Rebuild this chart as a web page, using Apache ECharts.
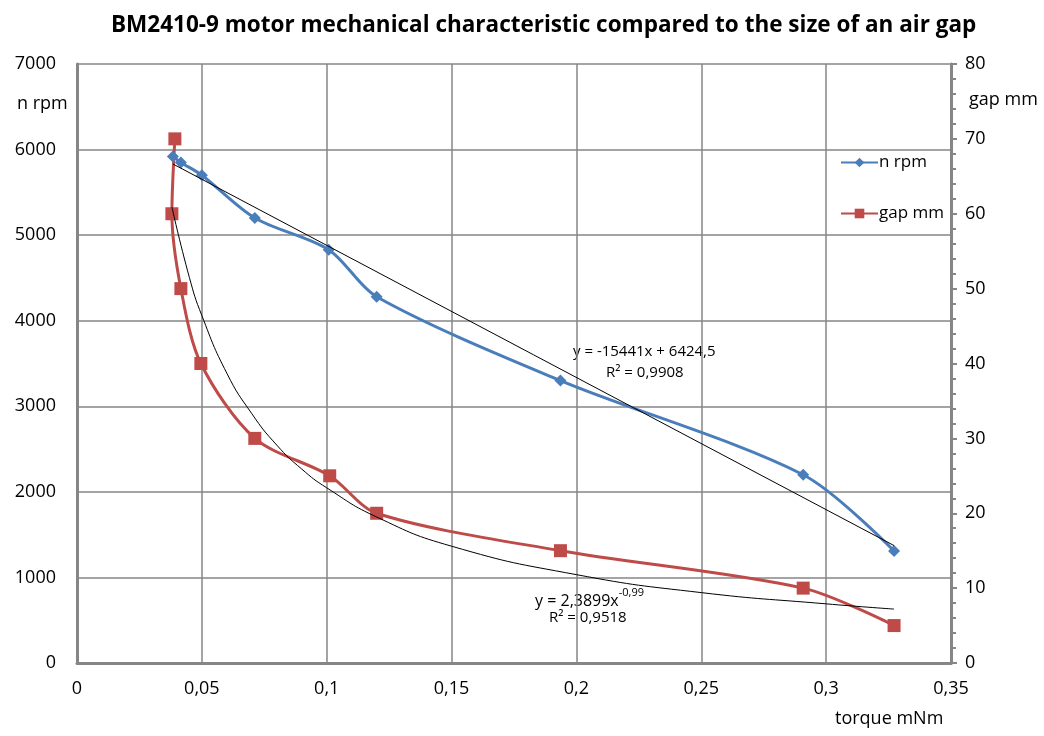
<!DOCTYPE html>
<html>
<head>
<meta charset="utf-8">
<script src="https://cdn.jsdelivr.net/npm/echarts@6/dist/echarts.min.js"></script>
<style>
	html, body { margin: 0; padding: 0; background: #fff; }
	#main { width: 1044px; height: 736px; }
</style>
</head>
<body>
<div id="main"></div>
<script>
// measured points
var rpmTorque = [0.0384, 0.0416, 0.050, 0.0712, 0.1008, 0.120, 0.1936, 0.2908, 0.3272];
var rpmValues = [5920, 5850, 5700, 5200, 4830, 4280, 3300, 2200, 1310];
var gapTorque = [0.0392, 0.038, 0.0416, 0.0496, 0.0712, 0.1012, 0.120, 0.1936, 0.2908, 0.3272];
var gapValues = [70, 60, 50, 40, 30, 25, 20, 15, 10, 5];
// trendlines
var linTrendX = [0.0384, 0.3272];
var linTrendY = [5832, 1372];
var powTrendX = [0.038, 0.045, 0.05, 0.06, 0.07, 0.08, 0.09, 0.1, 0.12, 0.15, 0.2, 0.25, 0.3, 0.3272];
var powTrendY = [60.9, 51.5, 46.4, 38.7, 33.3, 29.1, 25.9, 23.4, 19.5, 15.6, 11.8, 9.4, 7.9, 7.2];

function pairs(xs, ys) {
	var out = [];
	for (var i = 0; i < xs.length; i++) {
		out.push([xs[i], ys[i]]);
	}
	return out;
}

var FONT = '"Open Sans", "DejaVu Sans", sans-serif';
var chart = echarts.init(document.getElementById('main'));
var axisGray = '#868686';

var option = {
	animation: false,
	textStyle: { fontFamily: FONT },
	title: {
		text: 'BM2410-9 motor mechanical characteristic compared to the size of an air gap',
		left: 106,
		top: 9,
		textStyle: { fontFamily: FONT, fontSize: 22.5, fontWeight: 'bold', color: '#000' }
	},
	legend: {
		orient: 'vertical',
		left: 835,
		top: 149,
		itemWidth: 37,
		itemHeight: 12,
		itemGap: 34,
		data: ['n rpm', 'gap mm'],
		textStyle: { fontFamily: FONT, fontSize: 17, color: '#000', padding: [0, 0, 0, -4] }
	},
	grid: { left: 77, right: 93, top: 64, bottom: 73 },
	xAxis: {
		type: 'value',
		min: 0,
		max: 0.35,
		interval: 0.05,
		axisLine: { show: true, onZero: false, lineStyle: { color: axisGray, width: 3 } },
		axisTick: { show: false },
		splitLine: { show: true, lineStyle: { color: axisGray, width: 1.5 } },
		axisLabel: {
			color: '#000', fontSize: 18, margin: 17,
			formatter: function(v) { return String(+v.toFixed(2)).replace('.', ','); }
		}
	},
	yAxis: [{
		type: 'value',
		min: 0,
		max: 7000,
		interval: 1000,
		axisLine: { show: true, lineStyle: { color: axisGray, width: 3 } },
		axisTick: { show: false },
		splitLine: { show: true, lineStyle: { color: axisGray, width: 1.5 } },
		axisLabel: { color: '#000', fontSize: 18, margin: 21, formatter: function(v) { return String(v); } }
	}, {
		type: 'value',
		position: 'right',
		min: 0,
		max: 80,
		interval: 10,
		axisLine: { show: true, lineStyle: { color: axisGray, width: 3 } },
		axisTick: { show: true, inside: false, length: 6, lineStyle: { color: axisGray, width: 2 } },
		minorTick: { show: true, splitNumber: 5, length: 5, lineStyle: { color: axisGray, width: 2 } },
		splitLine: { show: false },
		axisLabel: { color: '#000', fontSize: 18, margin: 14 }
	}],
	series: [{
		name: 'n rpm',
		type: 'line',
		yAxisIndex: 0,
		data: pairs(rpmTorque, rpmValues),
		smooth: 0.3,
		symbol: 'diamond',
		symbolSize: 12,
		itemStyle: { color: '#4A7EBB' },
		lineStyle: { color: '#4A7EBB', width: 3 },
		z: 3
	}, {
		name: 'gap mm',
		type: 'line',
		yAxisIndex: 1,
		data: pairs(gapTorque, gapValues),
		smooth: 0.3,
		symbol: 'rect',
		symbolSize: 13,
		itemStyle: { color: '#BE4B48' },
		lineStyle: { color: '#BE4B48', width: 3 },
		z: 3
	}, {
		name: 'lin trend',
		type: 'line',
		yAxisIndex: 0,
		data: pairs(linTrendX, linTrendY),
		showSymbol: false,
		silent: true,
		lineStyle: { color: '#000', width: 1 },
		z: 4
	}, {
		name: 'pow trend',
		type: 'line',
		yAxisIndex: 1,
		data: pairs(powTrendX, powTrendY),
		smooth: true,
		showSymbol: false,
		silent: true,
		lineStyle: { color: '#000', width: 1 },
		z: 4
	}],
	graphic: [
		{ type: 'text', left: 17, top: 95, style: { text: 'n rpm', font: '18px ' + FONT, fill: '#000' } },
		{ type: 'text', left: 969, top: 91, style: { text: 'gap mm', font: '18px ' + FONT, fill: '#000' } },
		{ type: 'text', left: 835, top: 710, style: { text: 'torque mNm', font: '18px ' + FONT, fill: '#000' } },
		{ type: 'text', left: 573, top: 344, style: { text: 'y = -15441x + 6424,5', font: '15px ' + FONT, fill: '#000' } },
		{ type: 'text', left: 606, top: 365, style: { text: 'R² = 0,9908', font: '15px ' + FONT, fill: '#000' } },
		{ type: 'text', left: 535, top: 587, style: {
			text: '{a|y = 2,3899x}{s|-0,99}',
			rich: {
				a: { fontSize: 16, fontFamily: FONT, fill: '#000', lineHeight: 22, verticalAlign: 'bottom' },
				s: { fontSize: 11, fontFamily: FONT, fill: '#000', lineHeight: 22, verticalAlign: 'top' }
			}
		} },
		{ type: 'text', left: 549, top: 610, style: { text: 'R² = 0,9518', font: '15px ' + FONT, fill: '#000' } }
	]
};
chart.setOption(option);
window.onresize = function() {
	chart.resize();
};
</script>
</body>
</html>
